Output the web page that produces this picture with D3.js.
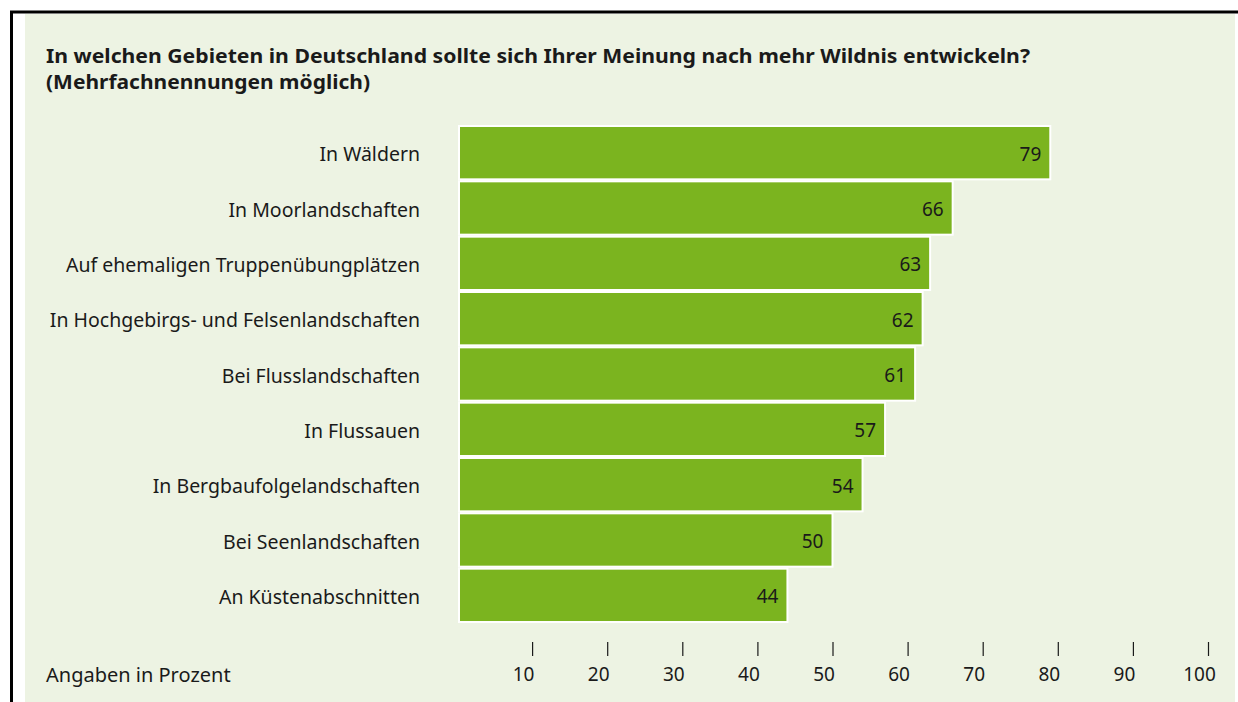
<!DOCTYPE html>
<html>
<head>
<meta charset="utf-8">
<style>
  body { margin: 0; background: #fff; }
  svg { display: block; font-family: "Noto Sans", "Open Sans", sans-serif; }
</style>
</head>
<body>
<svg width="1238" height="702"></svg>
<script src="https://cdn.jsdelivr.net/npm/d3@7/dist/d3.min.js"></script>
<script>

var categories = [
  "In Wäldern",
  "In Moorlandschaften",
  "Auf ehemaligen Truppenübungplätzen",
  "In Hochgebirgs- und Felsenlandschaften",
  "Bei Flusslandschaften",
  "In Flussauen",
  "In Bergbaufolgelandschaften",
  "Bei Seenlandschaften",
  "An Küstenabschnitten"
];
var values = [79, 66, 63, 62, 61, 57, 54, 50, 44];
var ticks = [10, 20, 30, 40, 50, 60, 70, 80, 90, 100];
var titleLines = [
  "In welchen Gebieten in Deutschland sollte sich Ihrer Meinung nach mehr Wildnis entwickeln?",
  "(Mehrfachnennungen möglich)"
];
var titleWidths = [984, 324];
var axisNote = "Angaben in Prozent";

var data = categories.map(function(c, i) { return {cat: c, value: values[i]}; });

var svg = d3.select("svg");

// frame and panel
svg.append("rect")
    .attr("x", 25).attr("y", 14)
    .attr("width", 1210).attr("height", 700)
    .attr("fill", "#edf3e3");
svg.append("line")
    .attr("x1", 10).attr("x2", 1238).attr("y1", 12).attr("y2", 12)
    .attr("stroke", "#000").attr("stroke-width", 3);
svg.append("line")
    .attr("x1", 11.5).attr("x2", 11.5).attr("y1", 11).attr("y2", 702)
    .attr("stroke", "#000").attr("stroke-width", 3);

// title
svg.append("g").selectAll("text")
  .data(titleLines)
  .join("text")
    .attr("x", 46)
    .attr("y", function(d, i) { return 63 + i * 26; })
    .attr("font-size", 19)
    .attr("font-weight", "bold")
    .attr("fill", "#1a1a1a")
    .attr("textLength", function(d, i) { return titleWidths[i]; })
    .attr("lengthAdjust", "spacingAndGlyphs")
    .text(function(d) { return d; });

var x = d3.scaleLinear()
    .domain([0, 100])
    .range([457, 1208]);

var y = d3.scaleBand()
    .domain(categories)
    .range([125, 623])
    .paddingInner(0)
    .paddingOuter(0);

var g = svg.append("g");

g.selectAll("rect.bar")
  .data(data)
  .join("rect")
    .attr("class", "bar")
    .attr("x", x(0) + 2)
    .attr("y", function(d) { return y(d.cat) + 1; })
    .attr("width", function(d) { return x(d.value) - x(0) - 2; })
    .attr("height", y.bandwidth() - 2)
    .attr("fill", "#7bb41f")
    .attr("stroke", "#fff")
    .attr("stroke-width", 2);

g.selectAll("text.val")
  .data(data)
  .join("text")
    .attr("class", "val")
    .attr("x", function(d) { return x(d.value) - 9; })
    .attr("y", function(d) { return y(d.cat) + y.bandwidth() / 2; })
    .attr("dy", "0.42em")
    .attr("text-anchor", "end")
    .attr("font-size", 19)
    .attr("fill", "#1a1a1a")
    .text(function(d) { return d.value; });

g.selectAll("text.cat")
  .data(data)
  .join("text")
    .attr("class", "cat")
    .attr("x", 420)
    .attr("y", function(d) { return y(d.cat) + y.bandwidth() / 2; })
    .attr("dy", "0.45em")
    .attr("text-anchor", "end")
    .attr("font-size", 19.5)
    .attr("fill", "#1a1a1a")
    .text(function(d) { return d.cat; });

// axis
var axis = svg.append("g")
    .attr("transform", "translate(0,642)")
    .call(d3.axisBottom(x).tickValues(ticks).tickSize(14).tickPadding(12));
axis.select(".domain").remove();
axis.selectAll(".tick line").attr("stroke", "#1a1a1a").attr("stroke-width", 1.2);
axis.selectAll(".tick text")
    .attr("font-family", "\"Noto Sans\", \"Open Sans\", sans-serif")
    .attr("font-size", 19)
    .attr("fill", "#1a1a1a")
    .attr("dx", -9);

svg.append("text")
    .attr("x", 46)
    .attr("y", 682)
    .attr("font-size", 20)
    .attr("fill", "#1a1a1a")
    .text(axisNote);

</script>
</body>
</html>
